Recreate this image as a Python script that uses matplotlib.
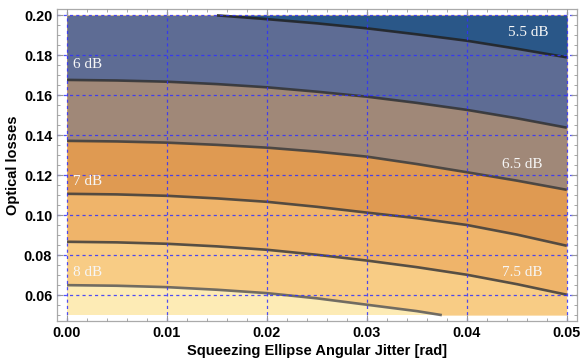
import numpy as np
import matplotlib.pyplot as plt
from matplotlib.ticker import MultipleLocator, FormatStrFormatter

# contour lines (x = jitter, y = optical losses)
x_full = [0.0, 0.005, 0.01, 0.015, 0.02, 0.025, 0.03, 0.035, 0.04, 0.045, 0.05]
line_a_x = [0.015, 0.02, 0.025, 0.03, 0.035, 0.04, 0.045, 0.05]
line_a_y = [0.2000, 0.1981, 0.1960, 0.1935, 0.1905, 0.1873, 0.1833, 0.1790]
line_b_y = [0.1677, 0.1674, 0.1668, 0.1656, 0.1640, 0.1618, 0.1593, 0.1562, 0.1527, 0.1485, 0.1438]
line_c_y = [0.1372, 0.1369, 0.1363, 0.1352, 0.1338, 0.1318, 0.1293, 0.1256, 0.1215, 0.1173, 0.1127]
line_d_y = [0.1107, 0.1104, 0.1097, 0.1084, 0.1067, 0.1042, 0.1013, 0.0985, 0.0951, 0.0903, 0.0847]
line_e_y = [0.0867, 0.0864, 0.0857, 0.0844, 0.0827, 0.0802, 0.0773, 0.0740, 0.0702, 0.0655, 0.0602]
line_f_x = [0.0, 0.005, 0.01, 0.015, 0.02, 0.025, 0.03, 0.035, 0.0375]
line_f_y = [0.0650, 0.0647, 0.0640, 0.0627, 0.0610, 0.0584, 0.0552, 0.0520, 0.0500]

band_colors = ['#fdebb5', '#f8cc85', '#efb46a', '#df9a52', '#a08878', '#5e6c94', '#2a5788']
band_labels = ['8 dB', '7.5 dB', '7 dB', '6.5 dB', '6 dB', '5.5 dB']
label_x = [0.0006, 0.0455, 0.0006, 0.0455, 0.0006, 0.0461]
label_y = [0.0712, 0.0712, 0.1171, 0.1252, 0.1752, 0.1912]
label_ha = ['left', 'center', 'left', 'center', 'left', 'center']

x_min, x_max = 0.0, 0.05
y_min, y_max = 0.05, 0.20

fig = plt.figure(figsize=(5.82, 3.6), dpi=100)
ax = fig.add_axes([0.098, 0.108, 0.893, 0.866])

# bands, from the bottom up
ax.fill_between([x_min, x_max], y_min, y_max, color=band_colors[0], lw=0)
lines = [
    (line_f_x, line_f_y),
    (x_full, line_e_y),
    (x_full, line_d_y),
    (x_full, line_c_y),
    (x_full, line_b_y),
    (line_a_x, line_a_y),
]
for i, (lx, ly) in enumerate(lines):
    fx, fy = list(lx), list(ly)
    if fx[-1] < x_max:
        fx.append(x_max)
        fy.append(y_min)
    ax.fill_between(fx, fy, y_max, color=band_colors[i + 1], lw=0)

line_cols = ['#5a5a5a', '#3c3c3c', '#3c3c3c', '#3c3c3c', '#333333', '#222222']
for (lx, ly), c in zip(lines, line_cols):
    ax.plot(lx, ly, color=c, lw=1.9, alpha=0.85, solid_capstyle='butt')

for t, tx, ty, ha in zip(band_labels, label_x, label_y, label_ha):
    ax.text(tx, ty, t, ha=ha, va='center', color='#f6f6f6',
            fontsize=11, family='Liberation Serif')

ax.set_xlim(-0.001, 0.051)
ax.set_ylim(0.047, 0.203)

ax.xaxis.set_major_locator(MultipleLocator(0.01))
ax.xaxis.set_minor_locator(MultipleLocator(0.002))
ax.yaxis.set_major_locator(MultipleLocator(0.02))
ax.yaxis.set_minor_locator(MultipleLocator(0.005))
ax.xaxis.set_major_formatter(FormatStrFormatter('%.2f'))
ax.yaxis.set_major_formatter(FormatStrFormatter('%.2f'))

for s in ax.spines.values():
    s.set_color('#aaaaaa')
    s.set_linewidth(0.9)
ax.tick_params(which='both', direction='in', top=True, right=True, color='#999999')
ax.tick_params(which='major', length=4, labelsize=10.4, pad=3.5)
ax.tick_params(which='minor', length=2)
for lab in ax.get_xticklabels() + ax.get_yticklabels():
    lab.set_fontweight('bold')
    lab.set_family('Liberation Sans')

# blue dashed grid on top of the bands
ax.set_axisbelow(False)
ax.grid(True, which='major', color='#3030ff', ls=(0, (2.5, 2.5)), lw=0.9, alpha=0.85)

ax.set_xlabel('Squeezing Ellipse Angular Jitter [rad]', fontsize=10.5,
              fontweight='bold', family='Liberation Sans', labelpad=3)
ax.set_ylabel('Optical losses', fontsize=10.5, fontweight='bold',
              family='Liberation Sans', labelpad=3)

fig.savefig('out.png', dpi=100)
